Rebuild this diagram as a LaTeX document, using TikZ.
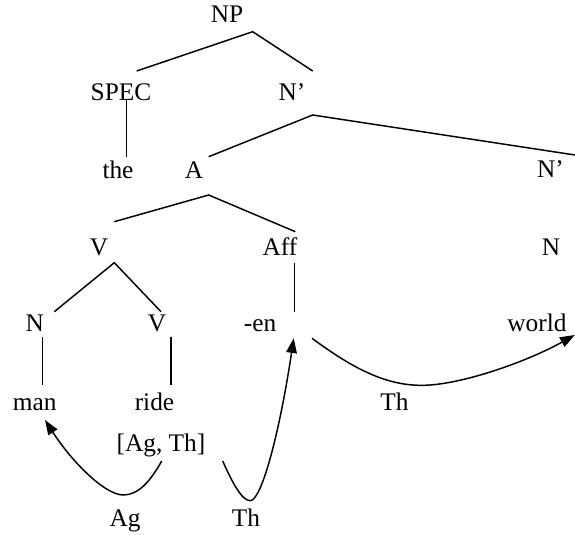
\documentclass[tikz,border=0pt]{standalone}
\usepackage{fontspec}
\setmainfont{Liberation Serif}
\usetikzlibrary{arrows.meta}
\begin{document}
\begin{tikzpicture}[x=0.75pt,y=-0.75pt,
  lbl/.style={inner sep=0pt, anchor=base, font=\fontsize{19}{22}\selectfont},
  edge/.style={line width=1.1pt},
  arr/.style={line width=1.1pt, -{Triangle[length=11pt,width=8pt]}}]
\useasboundingbox (0,0) rectangle (575,535);
% labels
\node[lbl] (NP)   at (227,23)    {NP};
\node[lbl] (SPEC) at (121,100)   {SPEC};
\node[lbl] (Nb1)  at (292,100)   {N’};
\node[lbl] (the)  at (118,178)   {the};
\node[lbl] (A)    at (194,178)   {A};
\node[lbl] (Nb2)  at (550.5,177) {N’};
\node[lbl] (V1)   at (99,255)    {V};
\node[lbl] (Aff)  at (280,255)   {Aff};
\node[lbl] (N3)   at (551,255)   {N};
\node[lbl] (N4)   at (34.7,331.7) {N};
\node[lbl] (V2)   at (157,331.7) {V};
\node[lbl] (en)   at (260,331.7) {-en};
\node[lbl] (world) at (537,331.7) {world};
\node[lbl] (man)  at (34.7,410)  {man};
\node[lbl] (ride) at (154.5,410) {ride};
\node[lbl] (Th1)  at (394.5,410) {Th};
\node[lbl] (AgTh) at (161,451.5) {[Ag, Th]};
\node[lbl] (Ag)   at (125,526)   {Ag};
\node[lbl] (Th2)  at (246,526)   {Th};
\coordinate (edgeR) at (575,155);
% tree edges
\draw[edge] ([shift={(15.7,-29)}]SPEC.base) -- ([shift={(25.7,8.7)}]NP.base) -- ([shift={(20.7,-29)}]Nb1.base);
\draw[edge] ([shift={(5.7,-1)}]SPEC.base) -- ([shift={(8.7,-21)}]the.base);
\draw[edge] ([shift={(14.7,-21.3)}]A.base) -- ([shift={(20.7,15)}]Nb1.base) -- (edgeR);
\draw[edge] ([shift={(15.3,-33.3)}]V1.base) -- ([shift={(14.7,17)}]A.base) -- ([shift={(15.3,-23.3)}]Aff.base);
\draw[edge] ([shift={(19.6,-20)}]N4.base) -- ([shift={(15.3,7.7)}]V1.base) -- ([shift={(4,-20)}]V2.base);
\draw[edge] ([shift={(14.7,7.7)}]Aff.base) -- ([shift={(34.7,-20)}]en.base);
\draw[edge] ([shift={(7.6,5)}]N4.base) -- ([shift={(7.6,-25)}]man.base);
\draw[edge] ([shift={(14,5)}]V2.base) -- ([shift={(16.5,-25)}]ride.base);
% theta arrows
\draw[arr] ([shift={(0.7,9.5)}]AgTh.base) .. controls (150,482) and (138,495) .. (123.3,495)
  .. controls (105,495) and (72,462) .. ([shift={(10.3,10)}]man.base);
\draw[arr] ([shift={(61.7,9.5)}]AgTh.base) .. controls (232,482) and (242,501) .. (250.3,500.7)
  .. controls (262,500) and (280,430) .. ([shift={(33.7,6.6)}]en.base);
\draw[arr] ([shift={(52,6.6)}]en.base) .. controls (355,370) and (390,388) .. (430,385)
  .. controls (470,382) and (530,360) .. ([shift={(37.7,3.3)}]world.base);
\end{tikzpicture}
\end{document}
